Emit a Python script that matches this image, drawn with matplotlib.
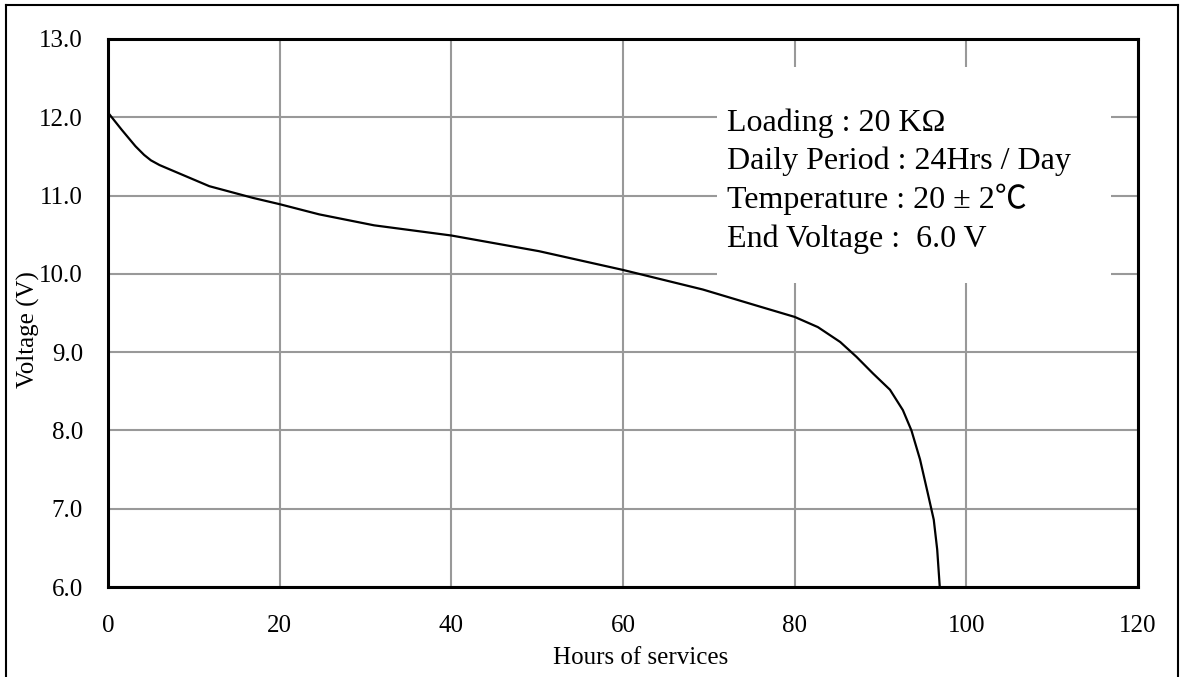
import matplotlib.pyplot as plt
from matplotlib.patches import Rectangle
from matplotlib.lines import Line2D

plt.rcParams["font.family"] = ["Liberation Serif", "Noto Sans CJK JP", "DejaVu Serif"]

# discharge curve
HOURS = [0, 1.6, 3.2, 4.2, 5.0, 6.0, 7.5, 11.8, 16.9, 20, 24.6, 31, 40, 50.2, 60, 69.3, 75.7,
         80, 82.7, 85.3, 87.2, 89.1, 91.1, 92.6, 93.6, 94.6, 95.5, 96.2, 96.6, 96.9]
VOLTS = [12.06, 11.84, 11.63, 11.52, 11.45, 11.39, 11.32, 11.12, 10.97, 10.89, 10.76, 10.62, 10.49, 10.29,
         10.05, 9.8, 9.59, 9.45, 9.32, 9.13, 8.94, 8.73, 8.52, 8.26, 8.0, 7.63, 7.2, 6.86, 6.48, 6.0]

X_TICKS = [0, 20, 40, 60, 80, 100, 120]
Y_TICKS = [6.0, 7.0, 8.0, 9.0, 10.0, 11.0, 12.0, 13.0]
INFO = ["Loading : 20 K\u03a9",
        "Daily Period : 24Hrs / Day",
        "Temperature : 20 \u00b1 2\u2103",
        "End Voltage :  6.0 V"]

fig = plt.figure(figsize=(11.83, 6.77), dpi=100)
ax = fig.add_axes([0.0913, 0.1329, 0.8707, 0.8095])

ax.plot(HOURS, VOLTS, color="black", linewidth=1.6, zorder=3)

ax.set_xlim(0, 120)
ax.set_ylim(6, 13)
ax.set_xticks(X_TICKS)
ax.set_yticks(Y_TICKS)
ax.set_yticklabels([f"{v:.1f}" for v in Y_TICKS])
ax.tick_params(axis="both", length=0, labelsize=18)
ax.tick_params(axis="x", pad=20)
ax.tick_params(axis="y", pad=18)
ax.grid(True, color="#999999", linewidth=1.5)
ax.set_axisbelow(True)
for sp in ax.spines.values():
    sp.set_linewidth(2.2)
    sp.set_color("black")

# white box behind the test conditions
ax.add_patch(Rectangle((71, 9.88), 45.8, 2.76, facecolor="white", edgecolor="none", zorder=1))
for i, line in enumerate(INFO):
    ax.text(72.1, 11.83 - i * 0.495, line, fontsize=23, va="baseline", ha="left", zorder=4)

ax.set_xlabel("Hours of services", fontsize=18)
ax.xaxis.set_label_coords(0.5175, -0.11)
ax.set_ylabel("Voltage (V)", fontsize=18)
ax.yaxis.set_label_coords(-0.066, 0.47)

# outer frame
for xs, ys in [([0.005, 0.005], [0, 0.9926]), ([0.005, 0.9958], [0.9926, 0.9926]),
               ([0.9958, 0.9958], [0, 0.9926])]:
    fig.add_artist(Line2D(xs, ys, transform=fig.transFigure, color="black", linewidth=1.5))

fig.savefig("out.png", dpi=100)
